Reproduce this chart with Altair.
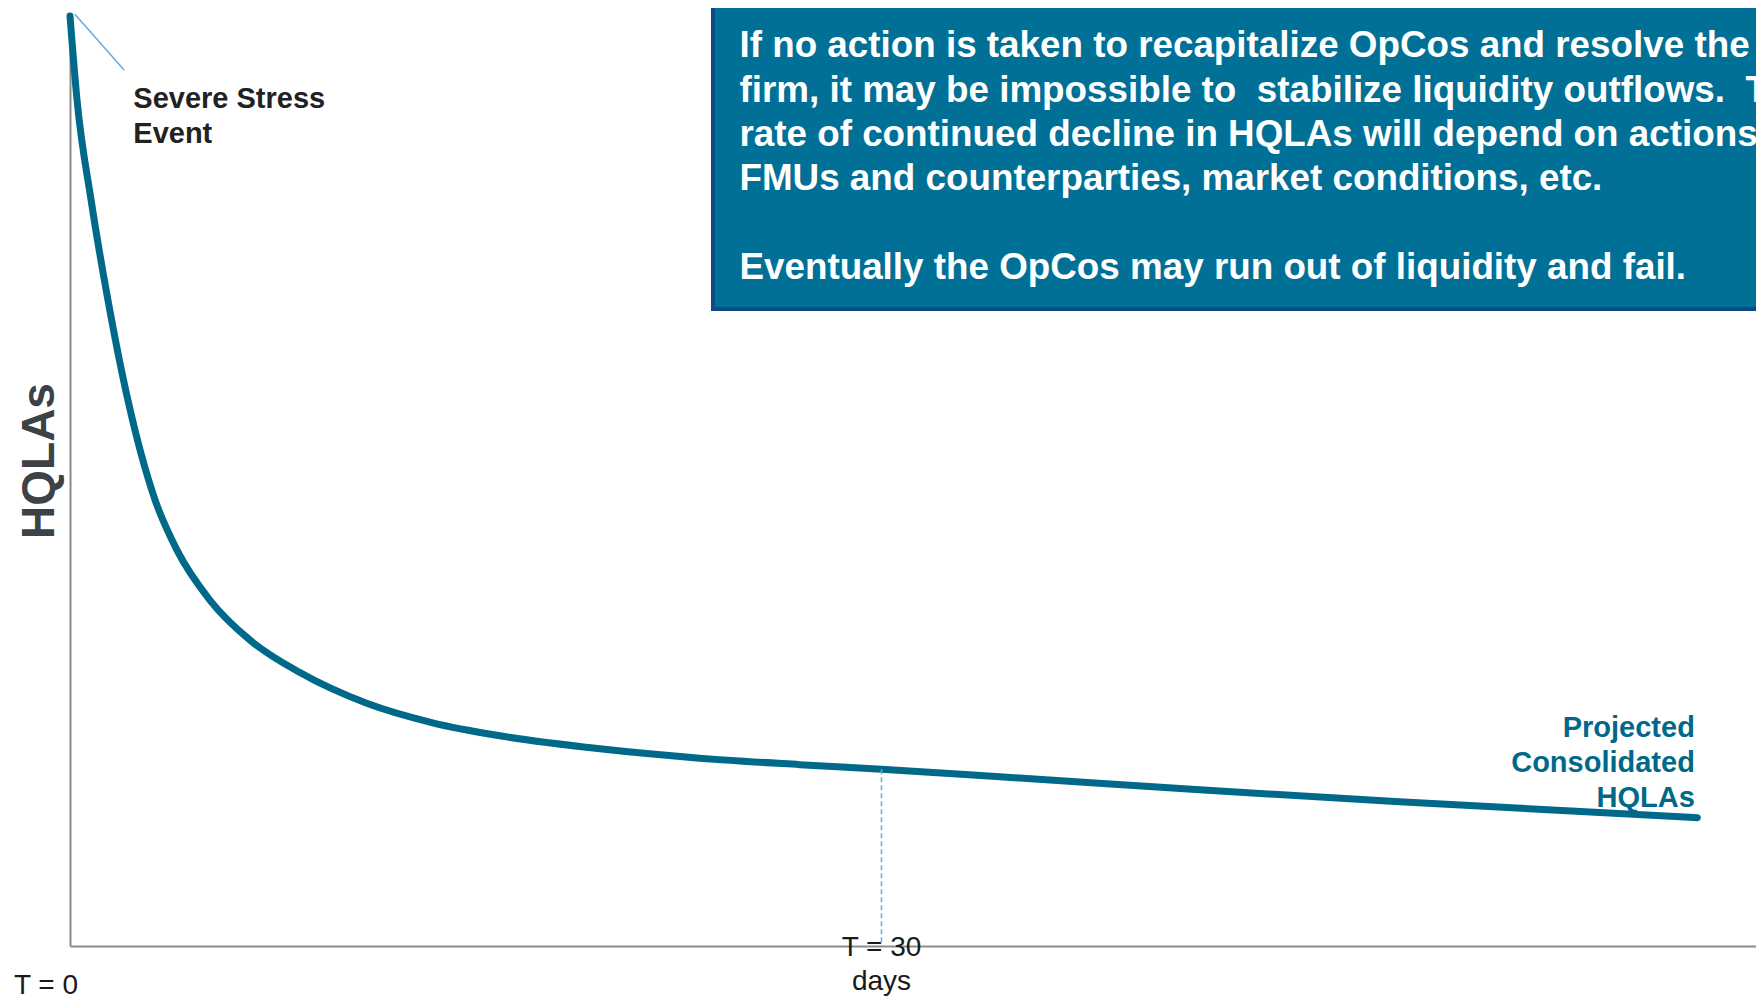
import altair as alt
import pandas as pd

# ---- series: projected consolidated HQLAs (x in days, y as % of starting level)
days = [0, 0.26, 0.78, 1.40, 2.14, 3.14, 3.95, 5.17, 6.65, 8.50, 10.97, 13.41,
        15.89, 19.59, 23.28, 26.98, 30.0, 34.37, 41.76, 49.15, 60.16]
hqla = [100, 90.97, 80.2, 69.5, 58.7, 48.0, 42.6, 37.2, 32.9, 29.4, 26.1, 24.0,
        22.6, 21.2, 20.2, 19.5, 19.0, 18.2, 16.8, 15.5, 13.8]

# ---- texts
box_lines = [
    "If no action is taken to recapitalize OpCos and resolve the",
    "firm, it may be impossible to \u00a0stabilize liquidity outflows. \u00a0The",
    "rate of continued decline in HQLAs will depend on actions of",
    "FMUs and counterparties, market conditions, etc.",
]
box_last_line = ["Eventually the OpCos may run out of liquidity and fail."]
stress_label = ["Severe Stress", "Event"]
series_label = ["Projected", "Consolidated", "HQLAs"]
t0_label = ["T = 0"]
t30_label = ["T = 30", "days"]
y_title = "HQLAs"

# ---- annotation anchors (data units)
T30 = 30.0
T30_LEVEL = 19.0

X_DOMAIN = [0, 62.33]
Y_DOMAIN = [0, 100]

LINE_COLOR = "#00698A"
FONT = "Liberation Sans"


def xs(field):
    return alt.X(field, type="quantitative",
                 scale=alt.Scale(domain=X_DOMAIN, nice=False, zero=False),
                 axis=alt.Axis(domain=True, domainColor="#8C8C8C", domainWidth=2,
                               ticks=False, labels=False, grid=False, title=None))


def ys(field):
    return alt.Y(field, type="quantitative",
                 scale=alt.Scale(domain=Y_DOMAIN, nice=False, zero=False),
                 axis=alt.Axis(domain=True, domainColor="#8C8C8C", domainWidth=2,
                               ticks=False, labels=False, grid=False,
                               title=y_title, titleFont=FONT, titleFontSize=46,
                               titleFontWeight="bold", titleColor="#3D4247",
                               titleAngle=270, titleAlign="center",
                               titleBaseline="alphabetic", titleX=-17, titleY=444.5))


curve_df = pd.DataFrame({"day": days, "hqla": hqla})

curve = alt.Chart(curve_df).mark_line(
    color=LINE_COLOR, strokeWidth=7, strokeCap="round", interpolate="monotone"
).encode(x=xs("day"), y=ys("hqla"))

dash_df = pd.DataFrame({"x": [T30], "y": [T30_LEVEL], "y2": [0]})
dash = alt.Chart(dash_df).mark_rule(
    color="#6AAED6", strokeWidth=1.5, strokeDash=[5, 3]
).encode(x=xs("x"), y=ys("y"), y2="y2")

leader_df = pd.DataFrame({"x": [0.18], "y": [100.2], "x2": [2.0], "y2": [94.2]})
leader = alt.Chart(leader_df).mark_rule(color="#6AAAD8", strokeWidth=1.5).encode(
    x=xs("x"), y=ys("y"), x2="x2", y2="y2")

box_df = pd.DataFrame({"x": [23.77], "x2": [64.5], "y": [102.0], "y2": [68.5]})
box = alt.Chart(box_df).mark_rect(
    fill="#007096", stroke="#0B4A86", strokeWidth=4
).encode(x=xs("x"), x2="x2", y=ys("y"), y2="y2")


def text_layer(lines, x, y, **kw):
    df = pd.DataFrame({"x": [x], "y": [y], "t": ["\n".join(lines)]})
    return alt.Chart(df).mark_text(font=FONT, lineBreak="\n", **kw).encode(
        x=xs("x"), y=ys("y"), text="t:N")


box_text = text_layer(box_lines, 24.75, 95.54, align="left", baseline="alphabetic",
                      fontSize=36.8, fontWeight="bold", color="white", lineHeight=44.2)
box_text2 = text_layer(box_last_line, 24.75, 71.77, align="left", baseline="alphabetic",
                       fontSize=36.8, fontWeight="bold", color="white")
stress_text = text_layer(stress_label, 2.34, 90.1, align="left", baseline="alphabetic",
                         fontSize=29, fontWeight="bold", color="#222222", lineHeight=35)
series_text = text_layer(series_label, 60.07, 22.44, align="right", baseline="alphabetic",
                         fontSize=29, fontWeight="bold", color=LINE_COLOR, lineHeight=35)
t0_text = text_layer(t0_label, -0.887, -5.2, align="center", baseline="alphabetic",
                     fontSize=28, color="#1A1A1A")
t30_text = text_layer(t30_label, T30, -1.04, align="center", baseline="alphabetic",
                      fontSize=28, color="#1A1A1A", lineHeight=34.5)

chart = alt.layer(
    curve, dash, leader, box, box_text, box_text2, stress_text, series_text,
    t0_text, t30_text
).properties(
    width=1686, height=930,
    padding={"left": 62, "top": 8, "right": 0, "bottom": 51},
    autosize=alt.AutoSizeParams(type="none"),
    background="white",
).configure_view(stroke=None)

chart.save("out.html", embed_options={"renderer": "svg", "actions": False})
